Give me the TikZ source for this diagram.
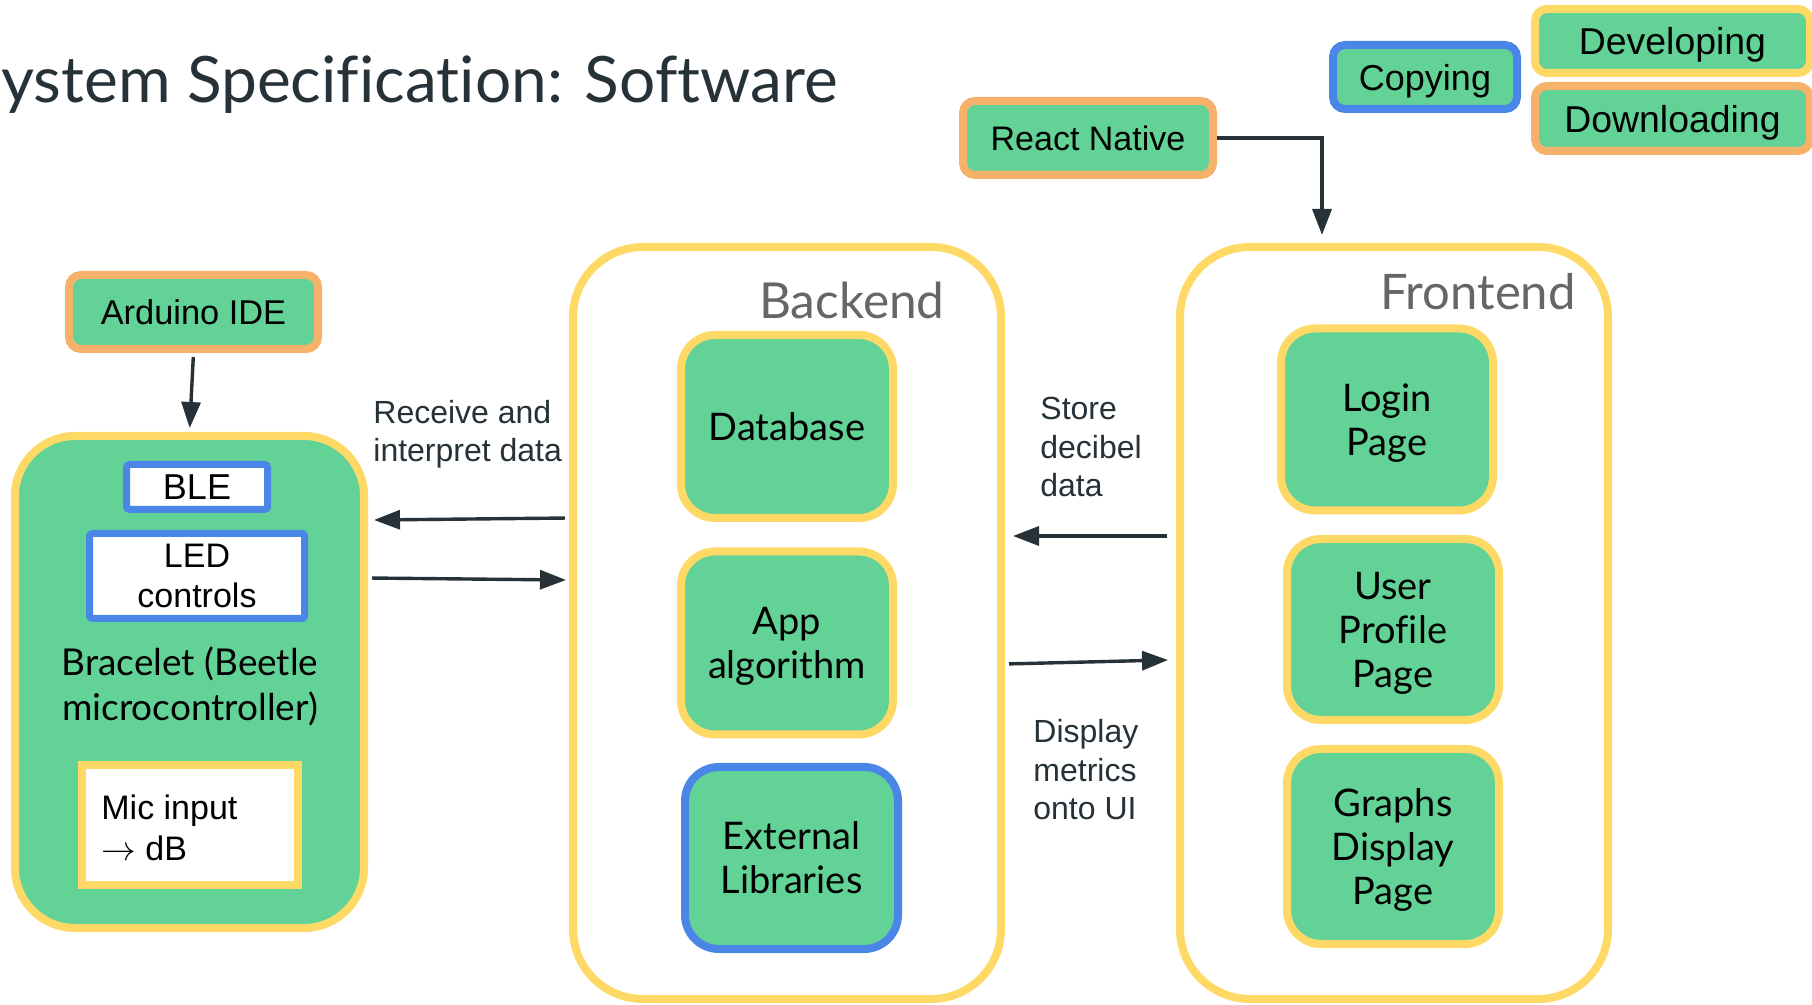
\documentclass[tikz,border=0pt]{standalone}
\usepackage{fontspec}
\setmainfont{Lato}[Ligatures=NoCommon]
\newfontfamily\arial{Liberation Sans}
\usetikzlibrary{arrows.meta}
\definecolor{gfill}{HTML}{63D297}
\definecolor{ybord}{HTML}{FFD966}
\definecolor{obord}{HTML}{F6B26B}
\definecolor{bbord}{HTML}{4A86E8}
\definecolor{ink}{HTML}{263238}
\definecolor{lblgray}{HTML}{666666}
\begin{document}
\begin{tikzpicture}[x=0.5pt,y=-0.5pt,
  sz/.style 2 args={minimum width={#1*0.5pt},minimum height={#2*0.5pt}},
  box/.style={draw, line width=4pt, fill=gfill, inner sep=0pt, align=center, text=black},
  tagbox/.style={box, rounded corners=6pt, text depth=0pt},
  pagebox/.style={box, draw=ybord, rounded corners=17pt, text depth=0pt, font=\fontsize{19pt}{22pt}\selectfont},
  group/.style={draw=ybord, line width=4pt, inner sep=0pt},
  afont/.style={font=\arial\fontsize{#1pt}{#1pt}\selectfont},
  lbl/.style={font=\arial\fontsize{16pt}{19.25pt}\selectfont, text=ink, align=left, inner sep=0pt, anchor=west},
  arr/.style={draw=ink, line width=1.7pt, -{Triangle[length=13pt,width=9.5pt]}}]
\useasboundingbox[fill=white] (0,0) rectangle (1812,1005);

% title
\node[anchor=base west, inner sep=0pt, text=ink, font=\fontsize{32pt}{38pt}\selectfont] (title) at (1,103) {ystem Specification: Software};

% top right legend
\node[tagbox, draw=obord, sz={250}{74}, afont=17] (rn) at (1088,138) {React Native};
\node[tagbox, draw=bbord, sz={184}{64}, afont=18] (copy) at (1425,77) {Copying};
\node[tagbox, draw=ybord, sz={275}{64}, afont=18.7] (dev) at (1672.5,41) {Developing};
\node[tagbox, draw=obord, sz={275}{65}, afont=18.7] (down) at (1672.5,118.5) {Downloading};

% bracelet side
\node[tagbox, draw=obord, sz={249}{74}, afont=17.2] (ard) at (193.5,312) {Arduino IDE};
\node[group, fill=gfill, rounded corners=30pt, sz={349}{492}] (brace) at (189.5,682) {};
\node[draw=bbord, fill=white, line width=3.5pt, rounded corners=1.5pt, inner sep=0pt, sz={141}{45}, afont=18] (ble) at (197,487) {BLE};
\node[draw=bbord, fill=white, line width=3.5pt, rounded corners=1.5pt, inner sep=0pt, align=center, sz={215}{85}, font=\arial\fontsize{17pt}{20pt}\selectfont] (led) at (197,576) {LED\\controls};
\node[inner sep=0pt, align=center, font=\fontsize{18.5pt}{22.5pt}\selectfont] (bractext) at (190,686) {Bracelet (Beetle\\microcontroller)};
\node[draw=ybord, fill=white, line width=4pt, inner sep=0pt, sz={216}{120}] (mic) at (190,825) {};
\node[anchor=west, align=left, inner sep=0pt, font=\arial\fontsize{17pt}{20.5pt}\selectfont] (mictext) at (101,828) {Mic input\\$\rightarrow$ dB};

% backend
\node[group, rounded corners=35pt, sz={428}{752}] (back) at (787,623) {};
\node[anchor=base east, inner sep=0pt, text=lblgray, font=\fontsize{24.8pt}{28pt}\selectfont] (backlbl) at (945,319) {Backend};
\node[pagebox, sz={212}{183}] (db) at (787,426.5) {Database};
\node[pagebox, sz={212}{183}] (algo) at (787,643) {App\\algorithm};
\node[pagebox, draw=bbord, sz={213}{182}] (ext) at (791.5,858) {External\\Libraries};

% frontend
\node[group, rounded corners=35pt, sz={428}{752}] (front) at (1394,623) {};
\node[anchor=base east, inner sep=0pt, text=lblgray, font=\fontsize{24.5pt}{28pt}\selectfont] (frontlbl) at (1576,310) {Frontend};
\node[pagebox, sz={212}{182}] (login) at (1387,419.5) {Login\\Page};
\node[pagebox, sz={212}{181}] (prof) at (1393,629.5) {User\\Profile\\Page};
\node[pagebox, sz={212}{195}] (graph) at (1393,846.5) {Graphs\\Display\\Page};

% labels
\node[lbl] (recv) at (373,434) {Receive and\\interpret data};
\node[lbl] (store) at (1040,447) {Store\\decibel\\data};
\node[lbl] (disp) at (1033,770) {Display\\metrics\\onto UI};

% connectors
\coordinate (p1) at (374,520);
\coordinate (p2) at (566,580);
\coordinate (q1) at (1167,536);
\coordinate (q2) at (1013,536);
\coordinate (q3) at (1168,660);
\coordinate (rc) at (1322,138);
\draw[arr, shorten <=2pt, shorten >=2pt] (ard.south) -- (brace.north);
\draw[arr, shorten <=2pt] (back.west |- 0,518) -- (p1);
\draw[arr, shorten <=2pt] (brace.east |- 0,578) -- (p2);
\draw[arr] (q1) -- (q2);
\draw[arr, shorten <=2pt] (back.east |- 0,664) -- (q3);
\draw[arr, shorten >=4pt] (rn.east) -- (rc) -- (rc |- front.north);
\end{tikzpicture}
\end{document}
